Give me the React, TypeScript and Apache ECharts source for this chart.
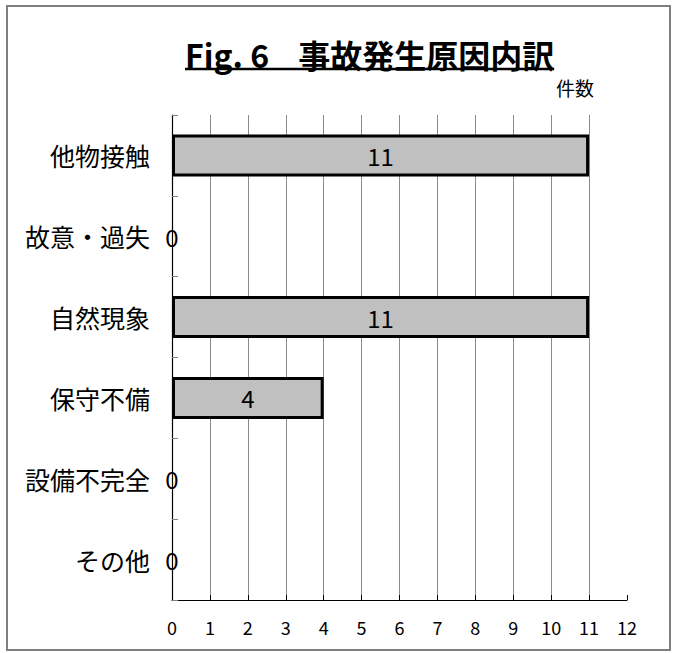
import React, { useEffect, useRef } from 'react';
import * as echarts from 'echarts';

// 事故発生原因ごとの件数
const categories = ['他物接触', '故意・過失', '自然現象', '保守不備', '設備不完全', 'その他'];
const counts = [11, 0, 11, 4, 0, 0];

const axisMin = 0;
const axisMax = 12;
const axisStep = 1;

const titleText = 'Fig. 6    事故発生原因内訳';
const unitText = '件数';

const FONT = '"Noto Sans CJK JP", "Noto Sans", sans-serif';
const TITLE_SIZE = 32;
const TITLE_LEFT = 185;

// width of a text run in the given font, used for the title underline
function measure(text: string, font: string): number {
  const ctx = document.createElement('canvas').getContext('2d');
  if (!ctx) return 0;
  ctx.font = font;
  return ctx.measureText(text).width;
}

export default function App() {
  const ref = useRef<HTMLDivElement>(null);

  useEffect(() => {
    document.body.style.margin = '0';
    if (!ref.current) return;
    const chart = echarts.init(ref.current, null, { renderer: 'svg' });

    const titleWidth = measure(titleText, `bold ${TITLE_SIZE}px ${FONT}`);

    chart.setOption({
      animation: false,
      backgroundColor: '#ffffff',
      title: [
        {
          text: titleText,
          left: TITLE_LEFT,
          top: 38,
          padding: 0,
          textStyle: {
            fontFamily: FONT,
            fontSize: TITLE_SIZE,
            lineHeight: TITLE_SIZE,
            fontWeight: 'bold',
            color: '#000',
          },
        },
        {
          text: unitText,
          left: 556,
          top: 78,
          padding: 0,
          textStyle: {
            fontFamily: FONT,
            fontSize: 19,
            lineHeight: 19,
            fontWeight: 'normal',
            color: '#000',
          },
        },
      ],
      graphic: [
        {
          type: 'rect',
          shape: { x: 7, y: 6, width: 663, height: 644 },
          style: { fill: 'none', stroke: '#808080', lineWidth: 2 },
          silent: true,
        },
        {
          type: 'line',
          shape: { x1: TITLE_LEFT, y1: 69, x2: TITLE_LEFT + titleWidth, y2: 69 },
          style: { stroke: '#000', lineWidth: 2.5 },
          silent: true,
        },
      ],
      grid: {
        left: 172,
        right: 51,
        top: 115,
        bottom: 53,
        containLabel: false,
      },
      xAxis: {
        type: 'value',
        min: axisMin,
        max: axisMax,
        interval: axisStep,
        axisLine: { show: true, lineStyle: { color: '#000', width: 1.2 } },
        axisTick: { show: true, inside: true, length: 5, lineStyle: { color: '#000' } },
        axisLabel: {
          margin: 18,
          fontFamily: FONT,
          fontSize: 18,
          color: '#000',
        },
        splitLine: {
          show: true,
          showMinLine: false,
          showMaxLine: false,
          lineStyle: { color: '#8a8a8a', width: 1 },
        },
      },
      yAxis: {
        type: 'category',
        data: categories,
        inverse: true,
        axisLine: { show: true, lineStyle: { color: '#000', width: 1.2 } },
        axisTick: { show: true, inside: true, length: 6, lineStyle: { color: '#808080' } },
        axisLabel: {
          margin: 22,
          fontFamily: FONT,
          fontSize: 25,
          color: '#000',
        },
        splitLine: { show: false },
      },
      series: [
        {
          type: 'bar',
          // empty bars get no outline, only their value label
          data: counts.map((v) => ({
            value: v,
            itemStyle: v === 0 ? { borderWidth: 0 } : undefined,
          })),
          barCategoryGap: '48%',
          itemStyle: {
            color: '#c0c0c0',
            borderColor: '#000',
            borderWidth: 3,
          },
          label: {
            show: true,
            position: 'inside',
            fontFamily: FONT,
            fontSize: 24,
            color: '#000',
          },
        },
      ],
    });

    return () => chart.dispose();
  }, []);

  return <div ref={ref} style={{ width: 678, height: 653 }} />;
}
